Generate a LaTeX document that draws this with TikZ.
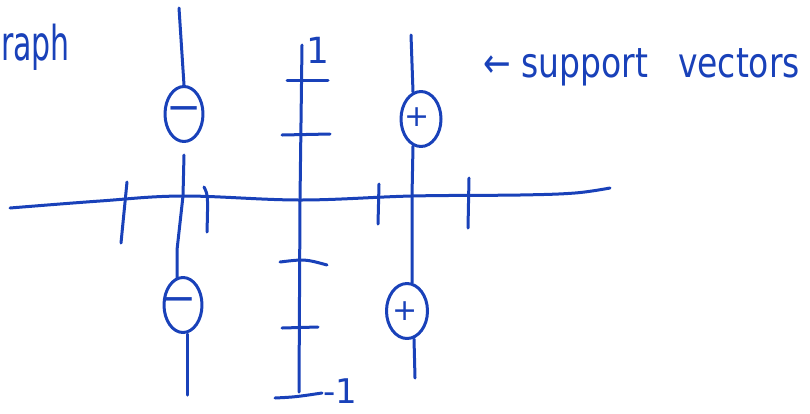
\documentclass[tikz,border=0pt]{standalone}
\usepackage{fontspec}
\usepackage{graphicx}
\setmainfont{DejaVu Sans}
\usetikzlibrary{shapes.geometric}
\definecolor{ink}{RGB}{25,65,185}
\begin{document}
\begin{tikzpicture}[x=1pt,y=-1pt,
  pen/.style={draw=ink,line width=3pt,line cap=round,line join=round},
  svbox/.style={pen,ellipse,inner sep=0pt,minimum width=38pt,minimum height=55pt},
  signlbl/.style={text=ink,inner sep=0pt},
  minuslbl/.style={signlbl,font=\fontsize{42}{42}\selectfont},
  pluslbl/.style={signlbl,font=\fontsize{30}{30}\selectfont},
  lbl/.style={text=ink,inner sep=0pt}]
\useasboundingbox (0,0) rectangle (810,413);
% support vector nodes
\node[svbox,label={[minuslbl]center:−}] (n1) at (184,114) {};
\node[svbox,label={[minuslbl,xshift=-4pt]center:−}] (n2) at (183,305) {};
\node[svbox,minimum width=40pt,label={[pluslbl,xshift=-4pt,yshift=2pt]center:+}] (p1) at (421,119) {};
\node[svbox,minimum width=41pt,label={[pluslbl,xshift=-2pt]center:+}] (p2) at (407,311) {};
% free ends of the vertical lines
\coordinate (n1t) at (179,8);
\coordinate (p1t) at (411,35);
\coordinate (n2b) at (187,395);
\coordinate (p2b) at (415,378);
% margin lines through the support vectors
\draw[pen] (n1t) -- (n1.north);
\draw[pen] ([yshift=-12pt]n1.south) -- (183,196) -- (177,250) -- ([xshift=-6pt,yshift=-1.5pt]n2.north);
\draw[pen] ([xshift=4pt]n2.south) -- (n2b);
\draw[pen] (p1t) -- ([xshift=-8pt,yshift=-2pt]p1.north);
\draw[pen] ([xshift=-8pt,yshift=2pt]p1.south) -- (412,196) -- ([xshift=5pt,yshift=-1pt]p2.north);
\draw[pen] ([xshift=7pt,yshift=1pt]p2.south) -- (p2b);
% horizontal axis
\draw[pen] plot[smooth,tension=0.6] coordinates {(10,208) (100,201) (183,196) (300,200) (412,196) (520,195) (575,193) (610,188)};
% vertical axis
\draw[pen] (302,45) -- (300,200) -- (299,392);
\draw[pen] (275,398) .. controls (295,397) .. (322,393);
% ticks on vertical axis
\draw[pen] (287,80) -- (328,80);
\draw[pen] (282,135) -- (330,134);
\draw[pen] (280,262) .. controls (305,259) .. (327,265);
\draw[pen] (282,328) -- (318,327);
% ticks on horizontal axis
\draw[pen] (127,182) -- (121,243);
\draw[pen] (204,187) .. controls (208,195) .. (207,232);
\draw[pen] (379,184) -- (378,224);
\draw[pen] (469,178) -- (468,228);
% labels
\node[lbl,font=\fontsize{36}{36}\selectfont,anchor=base] (one) at (318,63) {1};
\node[lbl,font=\fontsize{34}{34}\selectfont,anchor=base west] (mone) at (323,403) {-1};
\node[lbl,font=\fontsize{33}{33}\selectfont,anchor=base west] (sup) at (483,77) {\scalebox{1}[1.25]{← support\hspace{30pt}vectors}};
\node[lbl,font=\fontsize{30}{30}\selectfont,anchor=base west] (gr) at (1,60) {\scalebox{1}[1.6]{raph}};
\end{tikzpicture}
\end{document}
